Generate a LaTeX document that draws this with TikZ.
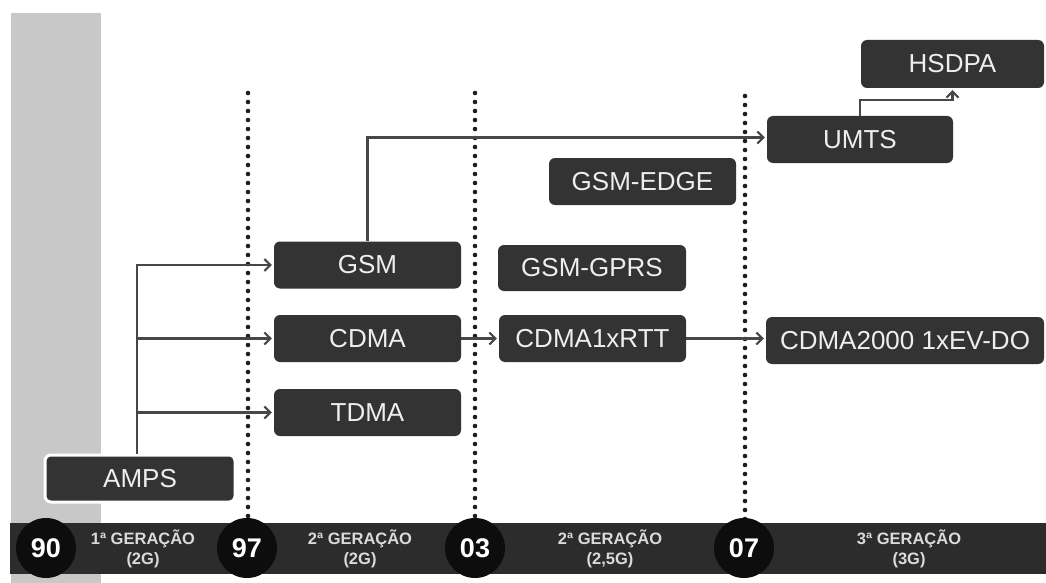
\documentclass[tikz,border=0pt]{standalone}
\usepackage{fontspec}
\setmainfont{Liberation Sans}
\usetikzlibrary{arrows.meta}
\definecolor{boxgray}{HTML}{333333}
\definecolor{boxtxt}{HTML}{EEEEEE}
\definecolor{stripgray}{HTML}{C8C8C8}
\definecolor{bargray}{HTML}{2C2C2C}
\definecolor{linegray}{HTML}{474747}
\definecolor{dotcol}{HTML}{1E1E1E}
\definecolor{gentxt}{HTML}{DADADA}
\begin{document}
\begin{tikzpicture}[x=1pt,y=-1pt,
  techbox/.style={rectangle, rounded corners=6pt, fill=boxgray, text=boxtxt,
    font=\fontsize{26}{26}\selectfont, minimum height=47pt, inner sep=0pt},
  yearc/.style={circle, fill=black!95, text=white, minimum size=60pt, inner sep=0pt,
    font=\bfseries\fontsize{27}{27}\selectfont},
  genlbl/.style={text=gentxt, align=center, font=\bfseries\fontsize{16.5}{20}\selectfont},
  arr/.style={draw=linegray, line width=2.2pt, -{Straight Barb[length=6pt,width=12pt,line width=2pt]}, shorten >=2pt},
  dotline/.style={draw=dotcol, line width=4.6pt, line cap=round, dash pattern=on 0pt off 9pt}
]
\useasboundingbox (0,0) rectangle (1046,583);
% grey strip
\fill[stripgray] (11,13) rectangle (101,583);
% dotted separators
\coordinate (d1t) at (248,93);  \coordinate (d1b) at (248,522);
\coordinate (d2t) at (475,93);  \coordinate (d2b) at (475,522);
\coordinate (d3t) at (745,96);  \coordinate (d3b) at (745,522);
\draw[dotline] (d1t) -- (d1b);
\draw[dotline] (d2t) -- (d2b);
\draw[dotline] (d3t) -- (d3b);
% boxes
\node[techbox, minimum width=190pt, draw=white, line width=3pt] (amps) at (140,478.5) {AMPS};
\node[techbox, minimum width=187pt] (gsm)  at (367.5,265) {GSM};
\node[techbox, minimum width=187pt] (cdma) at (367.5,338.5) {CDMA};
\node[techbox, minimum width=187pt] (tdma) at (367.5,412.5) {TDMA};
\node[techbox, minimum width=188pt, minimum height=46pt] (gprs) at (592,268) {GSM-GPRS};
\node[techbox, minimum width=187pt] (rtt)  at (592.5,338.5) {CDMA1xRTT};
\node[techbox, minimum width=187pt] (edge) at (642.5,181.5) {GSM-EDGE};
\node[techbox, minimum width=186pt] (umts) at (860,139.5) {UMTS};
\node[techbox, minimum width=183pt, minimum height=48pt] (hsdpa) at (952.5,64) {HSDPA};
\node[techbox, minimum width=278pt] (evdo) at (905,340.5) {CDMA2000 1xEV-DO};
% connectors
\draw[arr] ([xshift=-3pt]amps.north) |- (gsm.west);
\draw[arr] ([xshift=-3pt]amps.north) |- (cdma.west);
\draw[arr] ([xshift=-3pt]amps.north) |- (tdma.west);
\draw[arr] (gsm.north) |- ([yshift=2pt]umts.west);
\draw[arr] (cdma.east) -- (rtt.west);
\draw[arr] (rtt.east) -- (rtt.east -| evdo.west);
\coordinate (hk) at (952.5,100);
\draw[arr] (umts.north) |- (hk) -- (hsdpa.south);
% bottom bar
\fill[bargray] (10,523) rectangle (1046,574);
\node[yearc] (y90) at (46,548) {90};
\node[yearc] (y97) at (247,548) {97};
\node[yearc] (y03) at (475,548) {03};
\node[yearc] (y07) at (744,548) {07};
\node[genlbl] (g1) at (143,549) {1ª GERAÇÃO\\(2G)};
\node[genlbl] (g2) at (360,549) {2ª GERAÇÃO\\(2G)};
\node[genlbl] (g3) at (610,549) {2ª GERAÇÃO\\(2,5G)};
\node[genlbl] (g4) at (909,549) {3ª GERAÇÃO\\(3G)};
\end{tikzpicture}
\end{document}
